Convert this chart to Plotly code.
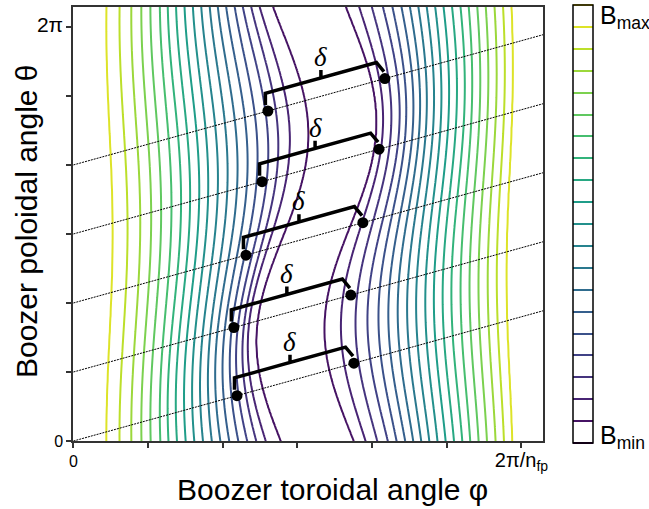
import numpy as np
import plotly.graph_objects as go

# ---------------- data ----------------
# phi in units of 2*pi/n_fp, theta in units of 2*pi
# contour levels k = 1..19  (B = Bmin + k/20 * (Bmax - Bmin)); level 0 = Bmin, 20 = Bmax
level_values = [k / 20 for k in range(1, 20)]
left_center = [0.4661, 0.4359, 0.4172, 0.3989, 0.3799, 0.3607, 0.3413, 0.3221, 0.3025, 0.2828,
               0.2638, 0.2444, 0.2252, 0.2058, 0.1837, 0.1625, 0.1391, 0.1118, 0.0806]
right_center = [0.6185, 0.6440, 0.6696, 0.6922, 0.7118, 0.7308, 0.7487, 0.7667, 0.7848, 0.8033,
                0.8214, 0.8400, 0.8585, 0.8770, 0.8960, 0.9150, 0.9346, 0.9538, 0.9734]
shift_amp = [0.058, 0.047, 0.040, 0.036, 0.031, 0.028, 0.025, 0.022, 0.020, 0.018,
             0.017, 0.016, 0.015, 0.013, 0.012, 0.011, 0.010, 0.009, 0.007]
# theta (units of 2pi) where each branch sits furthest to the left
phase_left = [0.240, 0.227, 0.213, 0.200, 0.187, 0.173, 0.160, 0.147, 0.133, 0.120,
              0.107, 0.093, 0.080, 0.067, 0.053, 0.040, 0.027, 0.013, 0.000]
phase_right = [0.270, 0.277, 0.284, 0.292, 0.299, 0.306, 0.313, 0.321, 0.328, 0.335,
               0.342, 0.349, 0.357, 0.364, 0.371, 0.378, 0.386, 0.393, 0.400]
iota = 0.3                        # field-line slope d(theta)/d(phi) in these units
field_line_alpha = [0, 1/6, 2/6, 3/6, 4/6]
bounce_left_phi = [0.365, 0.358, 0.385, 0.421, 0.434]
delta = 0.261

x_ticks = [k / 6 for k in range(7)]
x_ticktext = ['0', '', '', '', '', '', '<span style="font-size:20px">2π/n<sub>fp</sub></span>']
y_ticks = [k / 6 for k in range(7)]
y_ticktext = ['0', '', '', '', '', '', '<span style="font-size:21px">2π</span>']

# ---------------- build |B| on a grid from the contour description ----------------
cL = np.array(left_center)
cR = np.array(right_center)
A = np.array(shift_amp)
pL = np.array(phase_left)
pR = np.array(phase_right)
lv = np.array(level_values)

phi = np.linspace(-0.003, 1.052, 640)
theta = np.linspace(-0.003, 1.052, 300)
Z = np.empty((theta.size, phi.size))
for i, th in enumerate(theta):
    xl = cL - A * np.cos(2 * np.pi * (th - pL))
    xr = cR - A * np.cos(2 * np.pi * (th - pR))
    xc = 0.5 * (xl[0] + xr[0])
    ridge = 0.5 * (xr[-1] + xl[-1] + 1.0)
    pos = np.concatenate([xr - 1.0, [ridge - 1.0], xl[::-1], [xc], xr, [ridge], xl[::-1] + 1.0])
    val = np.concatenate([lv, [0.995], lv[::-1], [0.005], lv, [0.995], lv[::-1]])
    pos = np.maximum.accumulate(pos + np.arange(pos.size) * 1e-9)
    Z[i] = np.interp(phi, pos, val)
Z = np.round(Z, 4)

fig = go.Figure()
fig.add_trace(go.Contour(
    x=phi, y=theta, z=Z, colorscale='Viridis', zmin=0, zmax=1, zauto=False,
    autocontour=False, contours=dict(start=0, end=1, size=0.05, coloring='lines'),
    line=dict(width=2), hoverinfo='skip',
    colorbar=dict(thickness=20, thicknessmode='pixels', len=438, lenmode='pixels',
                  x=1.0638, xanchor='left', y=0.5, yanchor='middle', xpad=0, ypad=0,
                  outlinecolor='black', outlinewidth=1.5, showticklabels=False, ticks=''),
))

# field lines
phi_line = np.array([0.0, 1.06])
for a in field_line_alpha:
    fig.add_trace(go.Scatter(x=phi_line, y=a + iota * phi_line, mode='lines',
                             line=dict(color='black', width=1, dash='2px,1px'),
                             showlegend=False, hoverinfo='skip'))

# bounce points, brackets and delta labels
for a, pl in zip(field_line_alpha, bounce_left_phi):
    pr = pl + delta
    xl = pl - 0.0056
    xr = pr - 0.0188
    xm = 0.5 * (xl + xr)
    lift = 0.0445
    bx = [pl - 0.0056, xl, xm, xm, xm, xr, pr - 0.002]
    by = [a + iota * pl + 0.0144, a + iota * xl + lift, a + iota * xm + lift,
          a + iota * xm + lift + 0.019, a + iota * xm + lift, a + iota * xr + lift,
          a + iota * pr + 0.017]
    fig.add_trace(go.Scatter(x=bx, y=by, mode='lines', line=dict(color='black', width=3.5),
                             showlegend=False, hoverinfo='skip'))
    fig.add_trace(go.Scatter(x=[pl, pr], y=[a + iota * pl, a + iota * pr], mode='markers',
                             marker=dict(color='black', size=11), showlegend=False,
                             hoverinfo='skip'))
    fig.add_annotation(x=xm, y=a + iota * xm + lift + 0.019, text='<i>δ</i>', showarrow=False,
                       yanchor='bottom', xanchor='center', yshift=-4,
                       font=dict(family='Liberation Serif', size=27, color='black'))

# colorbar labels
fig.add_annotation(xref='paper', yref='paper', x=(598 - 73) / 470, y=(441 - 15) / 436,
                   text='B<sub>max</sub>', showarrow=False, xanchor='left', yanchor='middle',
                   font=dict(size=25, color='black'))
fig.add_annotation(xref='paper', yref='paper', x=(598 - 73) / 470, y=(441 - 437) / 436,
                   text='B<sub>min</sub>', showarrow=False, xanchor='left', yanchor='middle',
                   font=dict(size=25, color='black'))

# axis titles
fig.add_annotation(xref='paper', yref='paper', x=(332 - 73) / 470, y=(441 - 490) / 436,
                   text='Boozer toroidal angle φ', showarrow=False, xanchor='center',
                   yanchor='middle', font=dict(size=30, color='black'))
fig.add_annotation(xref='paper', yref='paper', x=(26 - 73) / 470, y=(441 - 220) / 436,
                   text='Boozer poloidal angle θ', showarrow=False, xanchor='center',
                   yanchor='middle', textangle=-90, font=dict(size=30, color='black'))

axis_common = dict(showline=True, mirror=True, linecolor='#333333', linewidth=1.5,
                   ticks='outside', ticklen=5, tickwidth=1.5, tickcolor='#333333',
                   showgrid=False, zeroline=False, tickfont=dict(size=16, color='black'))
fig.update_xaxes(range=[-0.001, 1.048], tickvals=x_ticks, ticktext=x_ticktext, **axis_common)
fig.update_yaxes(range=[0, 1.048], tickvals=y_ticks, ticktext=y_ticktext, **axis_common)
fig.update_layout(width=649, height=509, margin=dict(l=73, r=106, t=5, b=68),
                  plot_bgcolor='white', paper_bgcolor='white', showlegend=False,
                  font=dict(family='Liberation Sans, Arial, sans-serif', color='black'))
fig.write_html('out.html')
